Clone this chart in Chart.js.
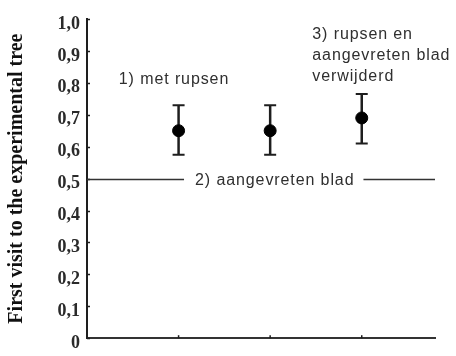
<!DOCTYPE html>
<html>
<head>
<meta charset="utf-8">
<script src="https://cdn.jsdelivr.net/npm/chart.js@4.4.1/dist/chart.umd.min.js"></script>
<style>
  html, body { margin: 0; padding: 0; background: #fff; }
  #wrap { width: 456px; height: 356px; }
</style>
</head>
<body>
<div id="wrap"><canvas id="chart"></canvas></div>
<script>
// data
var groups = [1, 2, 3]
var means = [0.65, 0.65, 0.69]
var lower = [0.575, 0.575, 0.61]
var upper = [0.73, 0.73, 0.765]
var yTicks = [0, 0.1, 0.2, 0.3, 0.4, 0.5, 0.6, 0.7, 0.8, 0.9, 1.0]
var refValue = 0.5
var refLabel = '2) aangevreten blad'
var label1 = ['1) met rupsen']
var label3 = ['3) rupsen en', 'aangevreten blad', 'verwijderd']

var ink = '#1e1e1e'
var textInk = '#2f2f2f'

// error bars, tick marks, reference line and labels
var extras = {
  id: 'extras',
  beforeDatasetsDraw: function (chart) {
    const ctx = chart.ctx
    const x = chart.scales.x
    const y = chart.scales.y
    const area = chart.chartArea
    ctx.save()

    // small tick marks inside the axes
    ctx.strokeStyle = ink
    ctx.lineWidth = 1.5
    yTicks.forEach(function (v) {
      const py = Math.round(y.getPixelForValue(v)) + 0.5
      ctx.beginPath()
      ctx.moveTo(area.left, py)
      ctx.lineTo(area.left + 3, py)
      ctx.stroke()
    })
    groups.forEach(function (g) {
      const px = x.getPixelForValue(g)
      ctx.beginPath()
      ctx.moveTo(px, area.bottom)
      ctx.lineTo(px, area.bottom - 3)
      ctx.stroke()
    })

    // reference line with label
    const ry = Math.round(y.getPixelForValue(refValue)) + 0.5
    ctx.font = '16px "Liberation Sans", Arial, sans-serif'
    ctx.letterSpacing = '0.9px'
    const tw = ctx.measureText(refLabel).width
    const cx = x.getPixelForValue(2.05)
    ctx.strokeStyle = '#333'
    ctx.lineWidth = 1.3
    ctx.beginPath()
    ctx.moveTo(area.left, ry)
    ctx.lineTo(cx - tw / 2 - 11, ry)
    ctx.moveTo(cx + tw / 2 + 9, ry)
    ctx.lineTo(area.right, ry)
    ctx.stroke()
    ctx.fillStyle = textInk
    ctx.textAlign = 'center'
    ctx.textBaseline = 'middle'
    ctx.fillText(refLabel, cx, ry + 1)

    // group labels
    ctx.fillText(label1[0], x.getPixelForValue(0.95), y.getPixelForValue(0.81))
    ctx.textAlign = 'left'
    const lx = x.getPixelForValue(2.46)
    label3.forEach(function (t, i) {
      ctx.fillText(t, lx, y.getPixelForValue(0.95) + i * 21)
    })

    // error bars
    ctx.strokeStyle = ink
    groups.forEach(function (g, i) {
      const px = x.getPixelForValue(g)
      const top = y.getPixelForValue(upper[i])
      const bot = y.getPixelForValue(lower[i])
      ctx.lineWidth = 2.5
      ctx.beginPath()
      ctx.moveTo(px, top)
      ctx.lineTo(px, bot)
      ctx.stroke()
      ctx.lineWidth = 2
      ctx.beginPath()
      ctx.moveTo(px - 6, top)
      ctx.lineTo(px + 6, top)
      ctx.moveTo(px - 6, bot)
      ctx.lineTo(px + 6, bot)
      ctx.stroke()
    })
    ctx.restore()
  },
}

var ctx = document.getElementById('chart').getContext('2d')
var chart = new Chart(ctx, {
  type: 'scatter',
  data: {
    datasets: [
      {
        data: groups.map(function (g, i) {
          return { x: g, y: means[i] }
        }),
        backgroundColor: '#000',
        borderColor: '#000',
        pointRadius: 6,
        pointHoverRadius: 6,
      },
    ],
  },
  options: {
    responsive: true,
    maintainAspectRatio: false,
    animation: false,
    layout: { padding: { top: 19, right: 21, left: 0, bottom: 0 } },
    plugins: {
      legend: { display: false },
      tooltip: { enabled: false },
    },
    scales: {
      x: {
        type: 'linear',
        min: 0,
        max: 3.8,
        grid: { display: false, drawTicks: false },
        border: { display: true, color: '#333', width: 2 },
        ticks: { display: false },
        afterFit: function (s) {
          s.height = 14
        },
      },
      y: {
        min: 0,
        max: 1,
        afterBuildTicks: function (s) {
          s.ticks = yTicks.map(function (v) {
            return { value: v }
          })
        },
        grid: { display: false, drawTicks: false },
        border: { display: true, color: ink, width: 2 },
        ticks: {
          padding: 7,
          labelOffset: 5,
          color: '#2a2a2a',
          font: { family: '"Liberation Serif", "Times New Roman", serif', size: 18, weight: 'bold' },
          callback: function (v) {
            return v === 0 ? '0' : (Math.round(v * 10) / 10).toFixed(1).replace('.', ',')
          },
        },
        title: {
          display: true,
          text: 'First visit to the experimental tree',
          color: '#111',
          padding: { top: 5, bottom: 0 },
          font: { family: '"Liberation Serif", "Times New Roman", serif', size: 20, weight: 'bold' },
        },
        afterFit: function (s) {
          s.width = 87
        },
      },
    },
  },
  plugins: [extras],
})
</script>
</body>
</html>
